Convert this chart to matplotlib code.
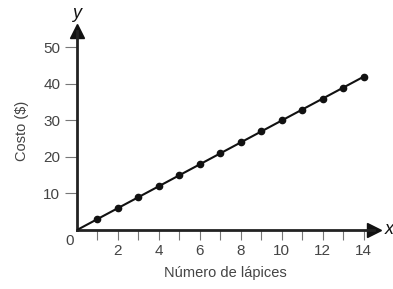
import matplotlib
matplotlib.use("Agg")
import matplotlib.pyplot as plt
import numpy as np

# data: cost of pencils, $3 each
lapices = [1, 2, 3, 4, 5, 6, 7, 8, 9, 10, 11, 12, 13, 14]
costo = [3, 6, 9, 12, 15, 18, 21, 24, 27, 30, 33, 36, 39, 42]
x_ticks = [2, 4, 6, 8, 10, 12, 14]
y_ticks = [10, 20, 30, 40, 50]

plt.rcParams["font.family"] = ["Liberation Sans", "DejaVu Sans"]
gray = "#444444"

fig = plt.figure(figsize=(3.93, 2.89), dpi=100)
ax = fig.add_axes([77 / 393, 59 / 289, (374 - 77) / 393, (230 - 31) / 289])

ax.plot([0] + lapices, [0] + costo, color="#111111", lw=1.5, zorder=3)
ax.plot(lapices, costo, "o", color="#111111", ms=4.5, zorder=4)

ax.set_xlim(0, 14.5)
ax.set_ylim(0, 54.5)

for side in ("top", "right"):
    ax.spines[side].set_visible(False)
for side in ("left", "bottom"):
    ax.spines[side].set_linewidth(2)
    ax.spines[side].set_color("#222222")

# arrow heads
ax.plot(1, 0, ">", color="#111111", ms=10, transform=ax.get_yaxis_transform(), clip_on=False)
ax.plot(0, 1, "^", color="#111111", ms=10, transform=ax.get_xaxis_transform(), clip_on=False)

ax.set_xticks(x_ticks)
ax.set_xticks(np.arange(1, 15), minor=True)
ax.set_yticks(y_ticks)
ax.tick_params(axis="x", which="both", direction="out", length=7, width=0.8,
               color="#777777", labelcolor=gray, labelsize=11, pad=3)
ax.tick_params(axis="y", direction="out", length=9, width=0.8,
               color="#777777", labelcolor=gray, labelsize=11, pad=3)

ax.text(-0.15, -1.2, "0", ha="right", va="top", fontsize=11, color=gray)
ax.text(0, 57.0, "y", ha="center", va="bottom", fontsize=13, style="italic", color="#111111")
ax.text(15.0, 0, "x", ha="left", va="center", fontsize=13, style="italic", color="#111111")

ax.set_xlabel("Número de lápices", fontsize=10.5, color=gray, labelpad=6)
ax.set_ylabel("Costo ($)", fontsize=10.5, color=gray, labelpad=10)

fig.savefig("out.png", dpi=100)
